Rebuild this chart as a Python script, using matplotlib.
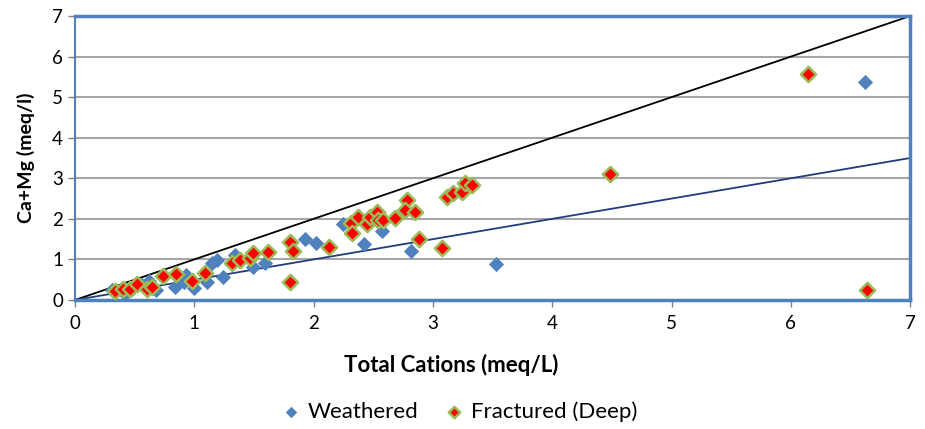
import matplotlib
matplotlib.use("Agg")
import matplotlib.pyplot as plt
import numpy as np

plt.rcParams['font.family'] = ['Lato', 'DejaVu Sans']

# Weathered aquifer samples
weathered_x = [0.31, 0.42, 0.48, 0.56, 0.62, 0.68, 0.84, 0.91, 0.93, 1.00, 1.11,
               1.15, 1.19, 1.24, 1.34, 1.49, 1.59, 1.93, 2.02, 2.25, 2.42, 2.57,
               2.82, 3.53, 6.62]
weathered_y = [0.24, 0.14, 0.28, 0.36, 0.48, 0.25, 0.32, 0.44, 0.62, 0.30, 0.44,
               0.91, 0.98, 0.57, 1.11, 0.81, 0.91, 1.50, 1.40, 1.87, 1.38, 1.70,
               1.21, 0.89, 5.38]

# Fractured (deep) aquifer samples
fractured_x = [0.34, 0.40, 0.46, 0.52, 0.60, 0.65, 0.74, 0.85, 0.98, 1.09, 1.32,
               1.38, 1.47, 1.49, 1.62, 1.80, 1.83, 1.80, 2.13, 2.31, 2.32, 2.37,
               2.45, 2.47, 2.53, 2.54, 2.58, 2.68, 2.78, 2.77, 2.85, 2.88, 3.08,
               3.12, 3.17, 3.24, 3.27, 3.33, 4.48, 6.14, 6.64]
fractured_y = [0.22, 0.27, 0.27, 0.39, 0.28, 0.32, 0.59, 0.64, 0.47, 0.66, 0.91,
               0.99, 1.03, 1.16, 1.18, 1.42, 1.20, 0.44, 1.31, 1.90, 1.65, 2.04,
               1.87, 2.05, 2.17, 1.97, 1.97, 2.02, 2.46, 2.22, 2.17, 1.50, 1.28,
               2.54, 2.63, 2.66, 2.88, 2.83, 3.10, 5.57, 0.25]

fig = plt.figure(figsize=(9.25, 4.29), dpi=100)
ax = fig.add_axes([0.081, 0.3007, 0.903, 0.662])

ax.set_xlim(0, 7)
ax.set_ylim(0, 7)
ax.set_xticks(range(8))
ax.set_yticks(range(8))

ax.grid(axis='y', color='#a6a6a6', linewidth=1.5)
ax.set_axisbelow(True)

# 1:1 and 2:1 reference lines
ax.plot([0, 7], [0, 7], color='black', linewidth=1.3, zorder=2)
ax.plot([0, 7], [0, 3.5], color='#1f3d7a', linewidth=1.3, zorder=2)

ax.scatter(weathered_x, weathered_y, marker='D', s=60, color='#4f81bd',
           linewidths=0, zorder=3, label='Weathered')
ax.scatter(fractured_x, fractured_y, marker='D', s=60, color='#ff0000',
           edgecolors='#9bbb59', linewidths=1.8, zorder=4,
           label='Fractured (Deep)')

for s in ax.spines.values():
    s.set_color('#4f81bd')
    s.set_linewidth(2.5)
ax.spines['left'].set_linewidth(1.5)

ax.tick_params(axis='both', colors='#808080', length=5, width=1,
               labelsize=13.5, labelcolor='black')
ax.tick_params(axis='x', pad=6)

ax.set_xlabel('Total Cations (meq/L)', fontsize=16, fontweight='bold')
ax.xaxis.set_label_coords(0.45, -0.19)
ax.set_ylabel('Ca+Mg (meq/l)', fontsize=14, fontweight='bold', labelpad=12)

fig.legend(loc='center', bbox_to_anchor=(0.497, 0.04), ncol=2, frameon=False,
           fontsize=16, handlelength=0.8, handletextpad=0.35, columnspacing=1.2,
           markerscale=0.75)

fig.savefig('out.png', dpi=100)
